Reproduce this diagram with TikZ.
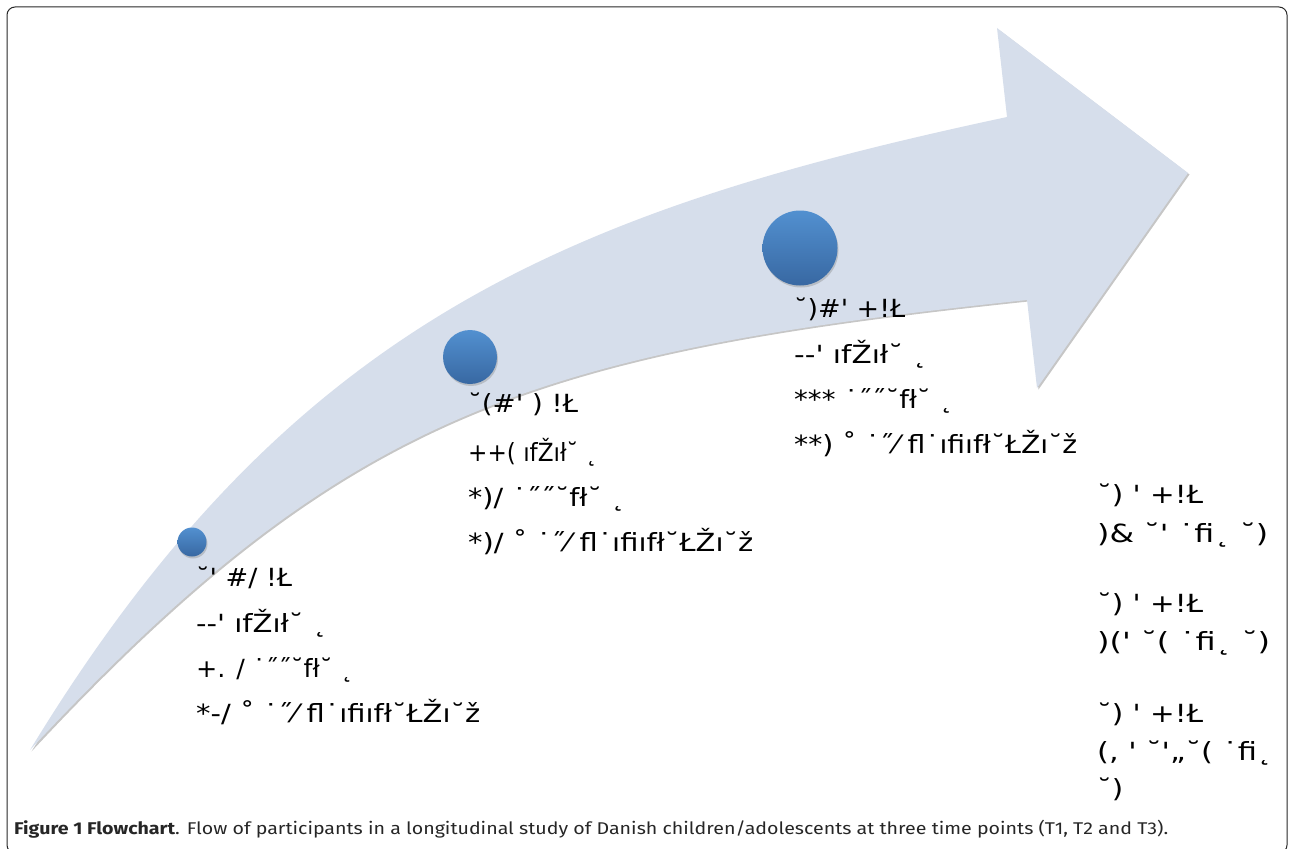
\documentclass[tikz,border=0pt]{standalone}
\usepackage{fontspec}
\usepackage{graphicx}
\usetikzlibrary{shadows}
\newfontfamily\gf[Ligatures=TeXOff]{DejaVu Sans}
\newfontfamily\capf{Fira Sans}
\definecolor{arrowfill}{RGB}{214,222,235}
\definecolor{dotTop}{RGB}{82,144,208}
\definecolor{dotBot}{RGB}{56,104,162}
\definecolor{framecol}{RGB}{40,40,40}
\newcommand{\fitw}[2]{\resizebox{#1pt}{\height}{#2}}
\begin{document}
\begin{tikzpicture}[x=1pt,y=-1pt,
  gline/.style={anchor=base west, inner sep=0pt, font=\gf\fontsize{25}{25}\selectfont},
  dotnode/.style={circle, inner sep=0pt, top color=dotTop, bottom color=dotBot,
    drop shadow={opacity=0.35, shadow xshift=1pt, shadow yshift=-2pt}},
  arrowbody/.style={fill=arrowfill, drop shadow={opacity=0.45, shadow xshift=1.5pt, shadow yshift=-1.5pt}},
  frame/.style={draw=framecol, line width=1pt, rounded corners=8pt}
]
\useasboundingbox (0,0) rectangle (1289,848);
\begin{scope}
\clip (0,0) rectangle (1289,848);
\path[frame] (7,7) rectangle (1287,853);
\end{scope}

% curved arrow
\path[arrowbody] (30,750) .. controls (290,323) and (567,211) .. (1007,117)
  -- (997,28) -- (1188,173) -- (1037,388) -- (1027,300)
  .. controls (529.8,352.3) and (343.7,413.7) .. (30,750) -- cycle;

% dots
\node[dotnode, minimum size=29pt] (c1) at (192,542) {};
\node[dotnode, minimum size=54pt] (c2) at (470,357) {};
\node[dotnode, minimum size=75pt] (c3) at (800,248) {};

% group 1
\node[gline] (a1) at (196,586) {\fitw{96}{˘' \#/ !Ł}};
\node[gline] (a2) at (196,632) {\fitw{131}{-{}-' ıfŽıł˘ ˛}};
\node[gline] (a3) at (196,677) {\fitw{157}{+. / ˙˝˝˘fł˘ ˛}};
\node[gline] (a4) at (196,722) {\fitw{284}{*-/ ˚ ˙˝⁄ ﬂ˙ıﬁıfł˘ŁŽı˘ž}};

% group 2
\node[gline] (b1) at (468,412) {\fitw{110}{˘(\#' ) !Ł}};
\node[gline] (b2) at (468,461) {\fitw{129}{++( ıfŽıł˘ ˛}};
\node[gline] (b3) at (468,506) {\fitw{157}{*)/ ˙˝˝˘fł˘ ˛}};
\node[gline] (b4) at (468,551) {\fitw{285}{*)/ ˚ ˙˝⁄ ﬂ˙ıﬁıfł˘ŁŽı˘ž}};

% group 3
\node[gline] (d1) at (794,317) {\fitw{111}{˘)\#' +!Ł}};
\node[gline] (d2) at (794,363) {\fitw{133}{-{}-' ıfŽıł˘ ˛}};
\node[gline] (d3) at (794,408) {\fitw{159}{*** ˙˝˝˘fł˘ ˛}};
\node[gline] (d4) at (794,453) {\fitw{283}{**) ˚ ˙˝⁄ ﬂ˙ıﬁıfł˘ŁŽı˘ž}};

% right column
\node[gline] (r1) at (1097,503) {\fitw{106}{˘) ' +!Ł}};
\node[gline] (r2) at (1097,542) {\fitw{171}{)\& ˘' ˙ﬁ˛ ˘)}};
\node[gline] (r3) at (1097,612) {\fitw{106}{˘) ' +!Ł}};
\node[gline] (r4) at (1097,650) {\fitw{173}{)(' ˘( ˙ﬁ˛ ˘)}};
\node[gline] (r5) at (1097,722) {\fitw{106}{˘) ' +!Ł}};
\node[gline] (r6) at (1097,760) {\fitw{175}{(, ' ˘'„˘( ˙ﬁ˛}};
\node[gline] (r7) at (1097,797) {\fitw{26}{˘)}};

% caption
\node[anchor=base west, inner sep=0pt, text=black!85] (cap) at (14,834)
  {\fitw{1154}{\capf\fontsize{17}{17}\selectfont\textbf{Figure 1 Flowchart}. Flow of participants in a longitudinal study of Danish children/adolescents at three time points (T1, T2 and T3).}};
\end{tikzpicture}
\end{document}
